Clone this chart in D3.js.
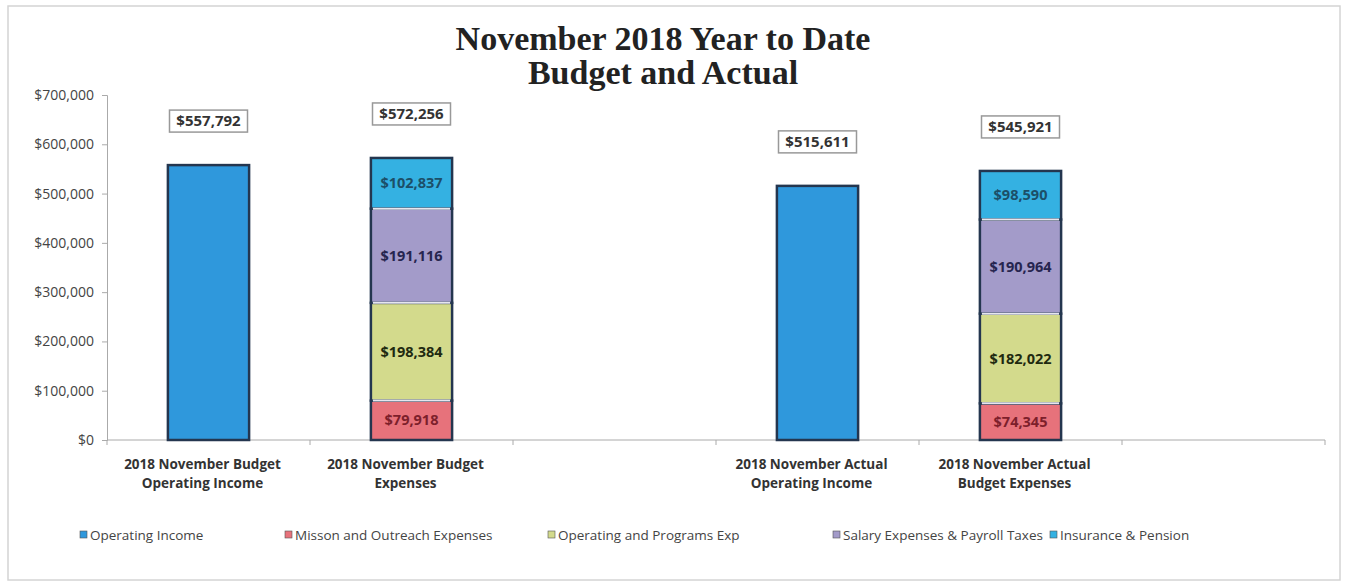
<!DOCTYPE html>
<html>
<head>
<meta charset="utf-8">
<script src="https://cdn.jsdelivr.net/npm/d3@7"></script>
<style>
  body { margin: 0; background: #fff; }
  svg { display: block; }
</style>
</head>
<body>
<div id="chart"></div>
<script>
// categories (blank slots keep the gaps seen in the original)
const categories = ['budgetIncome', 'budgetExpenses', 'gap1', 'actualIncome', 'actualExpenses', 'gap2'];
const categoryLabels = [
  ['2018 November Budget', 'Operating Income'],
  ['2018 November Budget', 'Expenses'],
  [],
  ['2018 November Actual', 'Operating Income'],
  ['2018 November Actual', 'Budget  Expenses'],
  []
];

const seriesNames = ['Operating Income', 'Misson and Outreach Expenses', 'Operating and Programs Exp',
  'Salary  Expenses & Payroll Taxes', 'Insurance & Pension'];

// one array per series, aligned with categories
const operatingIncome = [557792, 0, 0, 515611, 0, 0];
const missionOutreach = [0, 79918, 0, 0, 74345, 0];
const operatingPrograms = [0, 198384, 0, 0, 182022, 0];
const salaryPayroll = [0, 191116, 0, 0, 190964, 0];
const insurancePension = [0, 102837, 0, 0, 98590, 0];

const totalLabels = [557792, 572256, null, 515611, 545921, null];

const yTicks = [0, 100000, 200000, 300000, 400000, 500000, 600000, 700000];

const colors = ['#2f98dc', '#e7727b', '#d3da8c', '#a39bc9', '#34b1e2'];
const labelColors = ['#1b3f5f', '#7d1f2b', '#1f2a10', '#26254f', '#1c4f68'];

const width = 1348, height = 587;
const margin = { left: 107, right: 23, top: 95, bottom: 147 };

const svg = d3.select('#chart').append('svg')
  .attr('width', width)
  .attr('height', height);

// outer frame
svg.append('rect')
  .attr('x', 8).attr('y', 6)
  .attr('width', 1332).attr('height', 574)
  .attr('fill', 'none')
  .attr('stroke', '#d4d4d4')
  .attr('stroke-width', 1.5);

const x = d3.scaleBand()
  .domain(categories)
  .range([margin.left, width - margin.right])
  .paddingInner(0.6)
  .paddingOuter(0.3);

// band step boundaries used for the axis ticks
const step = x.step();
const x0 = margin.left;

const y = d3.scaleLinear()
  .domain([0, 700000])
  .range([height - margin.bottom, margin.top]);

const fmt = d => '$' + d3.format(',')(d);

// title
const title = svg.append('text')
  .attr('text-anchor', 'middle')
  .attr('font-family', '"Liberation Serif", serif')
  .attr('font-weight', 'bold')
  .attr('font-size', 34)
  .attr('fill', '#222');
title.append('tspan').attr('x', 663).attr('y', 50).text('November 2018 Year to Date');
title.append('tspan').attr('x', 663).attr('y', 84).text('Budget and Actual');

// y axis
const yAxis = svg.append('g')
  .attr('transform', `translate(${margin.left},0)`)
  .call(d3.axisLeft(y).tickValues(yTicks).tickFormat(fmt).tickSize(5).tickPadding(8));
yAxis.select('.domain').attr('stroke', '#aaa');
yAxis.selectAll('.tick line').attr('stroke', '#aaa');
yAxis.selectAll('.tick text')
  .attr('font-family', '"Open Sans", sans-serif')
  .attr('font-size', 14)
  .attr('fill', '#444');

// x axis line and ticks between categories
svg.append('line')
  .attr('x1', margin.left).attr('x2', width - margin.right)
  .attr('y1', y(0)).attr('y2', y(0))
  .attr('stroke', '#aaa');
svg.selectAll('.xtick')
  .data(d3.range(categories.length + 1))
  .join('line')
  .attr('class', 'xtick')
  .attr('x1', i => x0 + i * step).attr('x2', i => x0 + i * step)
  .attr('y1', y(0)).attr('y2', y(0) + 5)
  .attr('stroke', '#aaa');

// stacked bars
const table = categories.map((c, i) => ({
  key: c,
  s0: operatingIncome[i], s1: missionOutreach[i], s2: operatingPrograms[i],
  s3: salaryPayroll[i], s4: insurancePension[i]
}));
const stack = d3.stack().keys(['s0', 's1', 's2', 's3', 's4']);
const layers = stack(table);

const layerG = svg.selectAll('.layer')
  .data(layers)
  .join('g')
  .attr('class', 'layer')
  .attr('fill', (d, i) => colors[i]);

layerG.selectAll('rect')
  .data(d => d.filter(p => p[1] - p[0] > 0))
  .join('rect')
  .attr('x', d => x(d.data.key))
  .attr('width', x.bandwidth())
  .attr('y', d => y(d[1]))
  .attr('height', d => y(d[0]) - y(d[1]))
  .attr('stroke', '#24364f')
  .attr('stroke-width', 2.5);

// light seams between the stacked segments
layerG.selectAll('line.seam')
  .data((d, i) => i > 1 ? d.filter(p => p[1] - p[0] > 0) : [])
  .join('line')
  .attr('class', 'seam')
  .attr('x1', d => x(d.data.key) + 2).attr('x2', d => x(d.data.key) + x.bandwidth() - 2)
  .attr('y1', d => y(d[0])).attr('y2', d => y(d[0]))
  .attr('stroke', '#e6e6ef')
  .attr('stroke-width', 2);

// segment labels for the expense series
layerG.filter((d, i) => i > 0)
  .each(function (layer, li) {
    d3.select(this).selectAll('text')
      .data(layer.filter(p => p[1] - p[0] > 0))
      .join('text')
      .attr('x', d => x(d.data.key) + x.bandwidth() / 2)
      .attr('y', d => (y(d[0]) + y(d[1])) / 2)
      .attr('dy', '0.35em')
      .attr('text-anchor', 'middle')
      .attr('font-family', '"Open Sans", sans-serif')
      .attr('font-weight', 'bold')
      .attr('font-size', 14.5)
      .attr('fill', labelColors[li + 1])
      .text(d => fmt(d[1] - d[0]));
  });

// total labels in boxes above each bar
const totals = categories.map((c, i) => ({ key: c, v: totalLabels[i] })).filter(d => d.v !== null);
const tg = svg.selectAll('.total')
  .data(totals)
  .join('g')
  .attr('class', 'total')
  .attr('transform', d => `translate(${x(d.key) + x.bandwidth() / 2},${y(d.v) - 44})`);
tg.append('rect')
  .attr('x', -39).attr('y', -11)
  .attr('width', 78).attr('height', 22)
  .attr('fill', '#fff')
  .attr('stroke', '#999')
  .attr('stroke-width', 1.5);
tg.append('text')
  .attr('text-anchor', 'middle')
  .attr('dy', '0.36em')
  .attr('font-family', '"Open Sans", sans-serif')
  .attr('font-weight', 'bold')
  .attr('font-size', 15)
  .attr('fill', '#333')
  .text(d => fmt(d.v));

// category labels
svg.selectAll('.cat')
  .data(categories)
  .join('text')
  .attr('class', 'cat')
  .attr('text-anchor', 'middle')
  .attr('font-family', '"Open Sans", sans-serif')
  .attr('font-weight', 'bold')
  .attr('font-size', 13.5)
  .attr('fill', '#333')
  .each(function (c, i) {
    const cx = x(c) + x.bandwidth() / 2 - 6;
    d3.select(this).selectAll('tspan')
      .data(categoryLabels[i])
      .join('tspan')
      .attr('x', cx)
      .attr('y', (d, j) => 469 + j * 19)
      .text(d => d);
  });

// legend
const legendX = [80, 285, 548, 833, 1050];
const lg = svg.selectAll('.legend')
  .data(seriesNames)
  .join('g')
  .attr('class', 'legend')
  .attr('transform', (d, i) => `translate(${legendX[i]},535)`);
lg.append('rect')
  .attr('x', 0).attr('y', -4)
  .attr('width', 7).attr('height', 7)
  .attr('fill', (d, i) => colors[i])
  .attr('stroke', '#555')
  .attr('stroke-width', 0.6);
lg.append('text')
  .attr('x', 10)
  .attr('dy', '0.35em')
  .attr('font-family', '"Open Sans", sans-serif')
  .attr('font-size', 13.5)
  .attr('fill', '#444')
  .text(d => d);
</script>
</body>
</html>
